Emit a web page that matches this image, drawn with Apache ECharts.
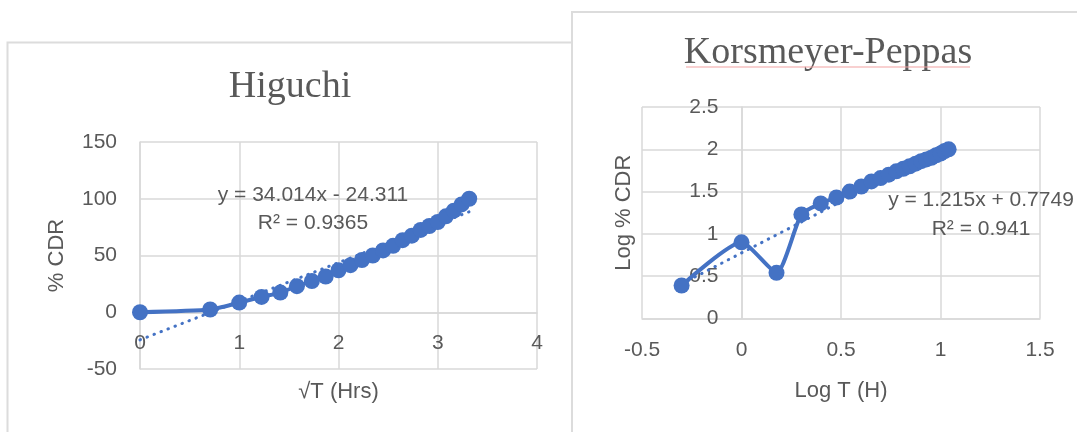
<!DOCTYPE html>
<html>
<head>
<meta charset="utf-8">
<title>Release kinetics: Higuchi and Korsmeyer-Peppas</title>
<script src="https://cdn.jsdelivr.net/npm/echarts@6/dist/echarts.min.js"></script>
<style>
  html, body { margin: 0; padding: 0; background: #ffffff; }
  #chart { width: 1077px; height: 432px; }
</style>
</head>
<body>
<div id="chart"></div>
<script>
// Higuchi model: square root of time (h) against % cumulative drug release
const higuchiSqrtT = [0, 0.707, 1, 1.225, 1.414, 1.581, 1.732, 1.871, 2, 2.121, 2.236, 2.345,
  2.449, 2.55, 2.646, 2.739, 2.828, 2.915, 3, 3.082, 3.162, 3.24, 3.317];
const higuchiCdr = [0, 2.4, 8.5, 13.5, 17.3, 23, 27.5, 31.5, 37, 41.5, 46, 50,
  54.5, 58.5, 63.5, 67.5, 72.5, 76, 79.5, 84.5, 89.5, 95, 100];
const higuchiFit = { slope: 34.014, intercept: -24.311, r2: '0.9365' };
const higuchiXTicks = [0, 1, 2, 3, 4];
const higuchiYTicks = [-50, 0, 50, 100, 150];

// Korsmeyer-Peppas model: log time against log % cumulative drug release
const kpLogT = [-0.301, 0, 0.176, 0.301, 0.398, 0.477, 0.544, 0.602, 0.653, 0.699, 0.74,
  0.778, 0.813, 0.845, 0.875, 0.903, 0.929, 0.954, 0.978, 1.0, 1.021, 1.041];
const kpLogCdr = [0.39, 0.9, 0.54, 1.23, 1.36, 1.43, 1.5, 1.56, 1.62, 1.66, 1.7,
  1.74, 1.77, 1.8, 1.83, 1.86, 1.88, 1.9, 1.93, 1.95, 1.98, 2.0];
const kpFit = { slope: 1.215, intercept: 0.7749, r2: '0.941' };
const kpXTicks = [-0.5, 0, 0.5, 1, 1.5];
const kpYTicks = [0, 0.5, 1, 1.5, 2, 2.5];

const BLUE = '#4472C4';
const TEXT = '#595959';
const GRID = '#d9d9d9';
const SANS = 'Liberation Sans';
const SERIF = 'Liberation Serif';

// plot rectangles (px) of the two panels
const RECT_L = { left: 140, top: 142, width: 397, height: 227 };
const RECT_R = { left: 642, top: 107, width: 398, height: 211.5 };

function pairs(xs, ys) {
  return xs.map((x, i) => [x, ys[i]]);
}

// straight trend line across the range of the observed x values
function trend(xs, fit) {
  const x0 = Math.min.apply(null, xs);
  const x1 = Math.max.apply(null, xs);
  return [[x0, fit.slope * x0 + fit.intercept], [x1, fit.slope * x1 + fit.intercept]];
}

function fmtEq(fit) {
  const sign = fit.intercept < 0 ? '-' : '+';
  return 'y = ' + fit.slope + 'x ' + sign + ' ' + Math.abs(fit.intercept) + '\nR² = ' + fit.r2;
}

// pixel distance from the low edge of an axis range to its zero value
function zeroShift(ticks, span) {
  const lo = ticks[0], hi = ticks[ticks.length - 1];
  return (0 - lo) / (hi - lo) * span;
}

function valueAxis(ticks, gridIndex, extra) {
  return Object.assign({
    type: 'value',
    gridIndex: gridIndex,
    min: ticks[0],
    max: ticks[ticks.length - 1],
    interval: ticks[1] - ticks[0],
    axisLine: { show: true, onZero: false, lineStyle: { color: GRID, width: 1.5 } },
    axisTick: { show: false },
    splitLine: { show: true, lineStyle: { color: GRID, width: 1.5 } },
    nameLocation: 'middle',
    nameTextStyle: { color: TEXT, fontFamily: SANS, fontSize: 22 }
  }, extra);
}

function label(margin) {
  return { color: TEXT, fontFamily: SANS, fontSize: 21, margin: margin };
}

function dataSeries(xi, yi, data) {
  return {
    type: 'line',
    xAxisIndex: xi,
    yAxisIndex: yi,
    data: data,
    smooth: 0.2,
    symbol: 'circle',
    symbolSize: 16,
    itemStyle: { color: BLUE },
    lineStyle: { color: BLUE, width: 4 },
    z: 3,
    animation: false
  };
}

function trendSeries(xi, yi, data) {
  return {
    type: 'line',
    xAxisIndex: xi,
    yAxisIndex: yi,
    data: data,
    showSymbol: false,
    symbol: 'none',
    lineStyle: { color: BLUE, width: 3, type: [0.5, 7], cap: 'round' },
    z: 2,
    silent: true,
    animation: false
  };
}

const chart = echarts.init(document.getElementById('chart'), null, { renderer: 'canvas' });

chart.setOption({
  backgroundColor: '#ffffff',
  animation: false,
  grid: [
    { left: RECT_L.left, top: RECT_L.top, width: RECT_L.width, height: RECT_L.height,
      containLabel: false, outerBoundsMode: 'none' },
    { left: RECT_R.left, top: RECT_R.top, width: RECT_R.width, height: RECT_R.height,
      containLabel: false, outerBoundsMode: 'none' }
  ],
  xAxis: [
    // horizontal axis drawn through y = 0
    valueAxis(higuchiXTicks, 0, { name: '√T (Hrs)', nameGap: 69, position: 'bottom',
      offset: -zeroShift(higuchiYTicks, RECT_L.height), axisLabel: label(20) }),
    valueAxis(kpXTicks, 1, { name: 'Log T (H)', nameGap: 61, position: 'bottom',
      offset: -zeroShift(kpYTicks, RECT_R.height), axisLabel: label(21) })
  ],
  yAxis: [
    valueAxis(higuchiYTicks, 0, { name: '% CDR', nameGap: 72, position: 'left',
      offset: -zeroShift(higuchiXTicks, RECT_L.width), axisLabel: label(23) }),
    // vertical axis drawn through x = 0
    valueAxis(kpYTicks, 1, { name: 'Log % CDR', nameGap: 107, position: 'left',
      offset: -zeroShift(kpXTicks, RECT_R.width), axisLabel: label(23) })
  ],
  series: [
    trendSeries(0, 0, trend(higuchiSqrtT, higuchiFit)),
    dataSeries(0, 0, pairs(higuchiSqrtT, higuchiCdr)),
    trendSeries(1, 1, trend(kpLogT, kpFit)),
    dataSeries(1, 1, pairs(kpLogT, kpLogCdr))
  ],
  graphic: [
    // chart frames
    { type: 'rect', z: -20, shape: { x: 7.5, y: 42.5, width: 700, height: 500 },
      style: { fill: '#ffffff', stroke: '#dcdcdc', lineWidth: 2 } },
    { type: 'rect', z: -10, shape: { x: 572, y: 12, width: 700, height: 500 },
      style: { fill: '#ffffff', stroke: '#dcdcdc', lineWidth: 2 } },
    // titles
    { type: 'text', z: 50, x: 290, y: 87,
      style: { text: 'Higuchi', fill: TEXT, font: '38px "' + SERIF + '"',
        align: 'center', verticalAlign: 'middle' } },
    { type: 'text', z: 50, x: 828, y: 53,
      style: { text: 'Korsmeyer-Peppas', fill: TEXT, font: '38px "' + SERIF + '"',
        align: 'center', verticalAlign: 'middle' } },
    { type: 'line', z: 50, shape: { x1: 686, y1: 67, x2: 970, y2: 67 },
      style: { stroke: '#f2a2a2', lineWidth: 1.2 } },
    // trend line equations
    { type: 'text', z: 50, x: 313, y: 209,
      style: { text: fmtEq(higuchiFit), fill: TEXT, font: '21px "' + SANS + '"',
        lineHeight: 28, align: 'center', verticalAlign: 'middle' } },
    { type: 'text', z: 50, x: 981, y: 215,
      style: { text: fmtEq(kpFit), fill: TEXT, font: '21px "' + SANS + '"',
        lineHeight: 29, align: 'center', verticalAlign: 'middle' } }
  ]
});
</script>
</body>
</html>
